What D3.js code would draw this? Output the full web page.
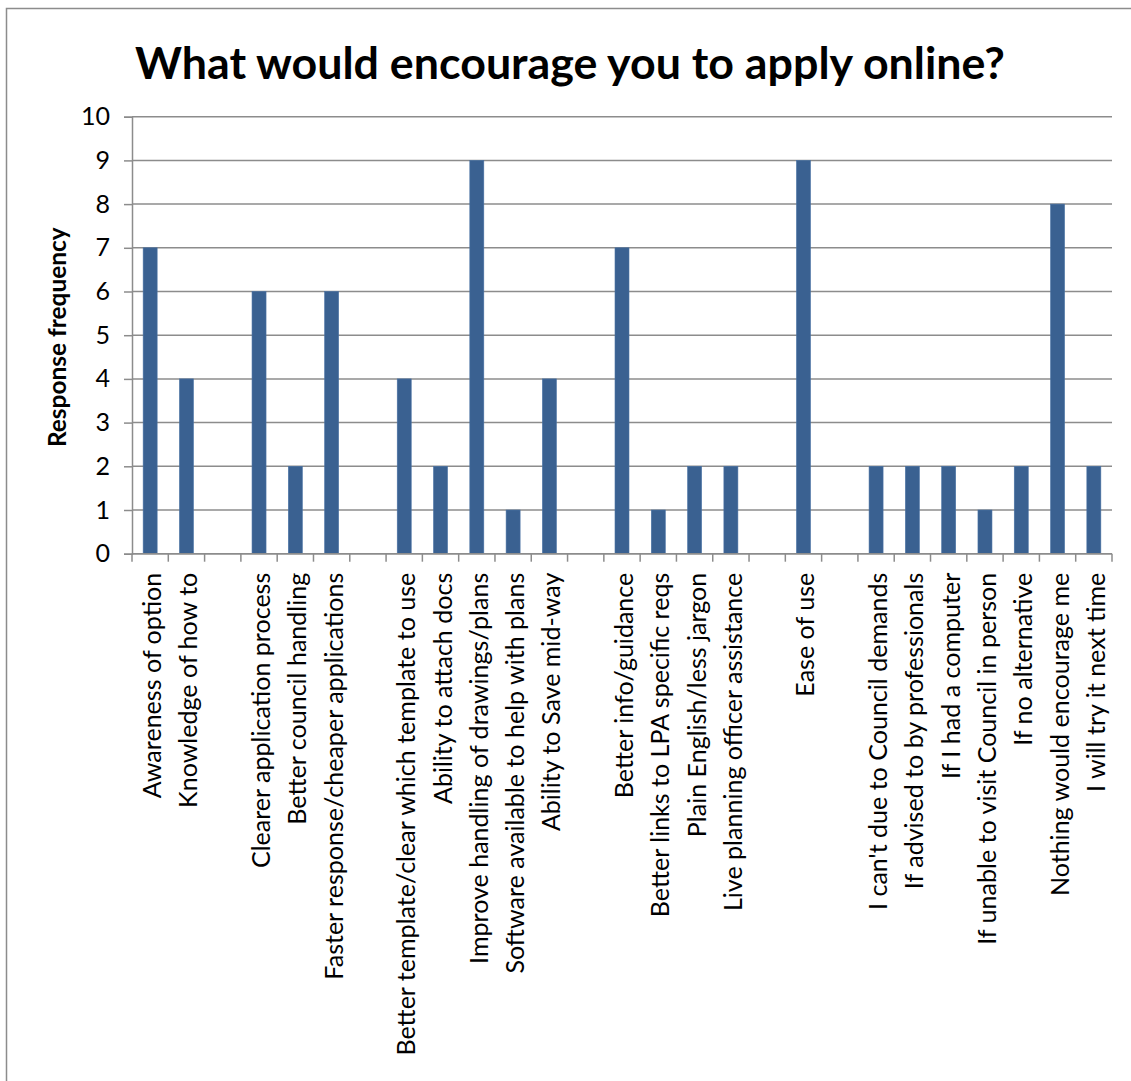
<!DOCTYPE html>
<html>
<head>
<meta charset="utf-8">
<script src="https://cdn.jsdelivr.net/npm/d3@7"></script>
<style>
  html, body { margin: 0; padding: 0; background: #fff; }
  svg { display: block; }
  text { font-family: Lato, "Open Sans", "Noto Sans", sans-serif; fill: #000; }
</style>
</head>
<body>
<svg id="chart" width="1131" height="1081"></svg>
<script>
// Survey answers; empty strings are spacer slots between answer groups
const categories = [
  "Awareness of option",
  "Knowledge of how to",
  "",
  "Clearer application process",
  "Better council handling",
  "Faster response/cheaper applications",
  "",
  "Better template/clear which template to use",
  "Ability to attach docs",
  "Improve handling of drawings/plans",
  "Software available to help with plans",
  "Ability to Save mid-way",
  "",
  "Better info/guidance",
  "Better links to LPA specific reqs",
  "Plain English/less jargon",
  "Live planning officer assistance",
  "",
  "Ease of use",
  "",
  "I can't due to Council demands",
  "If advised to by professionals",
  "If I had a computer",
  "If unable to visit Council in person",
  "If no alternative",
  "Nothing would encourage me",
  "I will try it next time"
];
const responses = [7, 4, null, 6, 2, 6, null, 4, 2, 9, 1, 4, null, 7, 1, 2, 2, null, 9, null, 2, 2, 2, 1, 2, 8, 2];
const yTicks = [0, 1, 2, 3, 4, 5, 6, 7, 8, 9, 10];
const chartTitle = "What would encourage you to apply online?";
const yTitle = "Response frequency";

const svg = d3.select("#chart");
const plot = { left: 132, right: 1112, top: 116.7, bottom: 553.7 };

// outer chart frame
svg.append("rect")
  .attr("x", 6.5).attr("y", 8.5)
  .attr("width", 1140).attr("height", 1100)
  .attr("fill", "#fff").attr("stroke", "#8c8c8c").attr("stroke-width", 1.5);

const slots = categories.map((c, i) => i);
const x = d3.scaleBand().domain(slots).range([plot.left, plot.right]).paddingInner(0).paddingOuter(0);
const y = d3.scaleLinear().domain([0, 10]).range([plot.bottom, plot.top]);

// horizontal gridlines
svg.append("g")
  .selectAll("line")
  .data(yTicks)
  .join("line")
  .attr("x1", plot.left).attr("x2", plot.right)
  .attr("y1", d => y(d)).attr("y2", d => y(d))
  .attr("stroke", "#8c8c8c").attr("stroke-width", 1.5);

// y axis
const yAxis = svg.append("g")
  .attr("transform", `translate(${plot.left},0)`)
  .call(d3.axisLeft(y).tickValues(yTicks).tickSize(8).tickPadding(14).tickFormat(d3.format("d")));
yAxis.attr("font-family", null).attr("font-size", null);
yAxis.select(".domain").attr("stroke", "#8c8c8c").attr("stroke-width", 1.5);
yAxis.selectAll(".tick line").attr("stroke", "#8c8c8c").attr("stroke-width", 1.5);
yAxis.selectAll(".tick text").attr("font-size", 20).attr("fill", "#000");

// bars
const barW = 14;
svg.append("g")
  .selectAll("rect")
  .data(responses.map((v, i) => ({ i, v })).filter(d => d.v !== null))
  .join("rect")
  .attr("x", d => x(d.i) + x.bandwidth() / 2 - barW / 2)
  .attr("width", barW)
  .attr("y", d => y(d.v))
  .attr("height", d => y(0) - y(d.v))
  .attr("fill", "#3a6191")
  .attr("stroke", "#4a72a4").attr("stroke-width", 0.6);

// x axis: tick marks at slot boundaries
const boundaries = d3.range(categories.length + 1).map(i => plot.left + i * x.bandwidth());
const xg = svg.append("g");
xg.append("line")
  .attr("x1", plot.left).attr("x2", plot.right)
  .attr("y1", plot.bottom).attr("y2", plot.bottom)
  .attr("stroke", "#8c8c8c").attr("stroke-width", 1.5);
xg.selectAll("line.tk")
  .data(boundaries)
  .join("line").attr("class", "tk")
  .attr("x1", d => d).attr("x2", d => d)
  .attr("y1", plot.bottom).attr("y2", plot.bottom + 8)
  .attr("stroke", "#8c8c8c").attr("stroke-width", 1.5);

// rotated category labels
const labels = xg.selectAll("text.cat")
  .data(categories.map((c, i) => ({ c, i })).filter(d => d.c !== ""))
  .join("text").attr("class", "cat")
  .attr("text-anchor", "end")
  .attr("dominant-baseline", "central")
  .attr("font-size", 20)
  .attr("transform", d => `translate(${x(d.i) + x.bandwidth() / 2 + 1},${plot.bottom + 19}) rotate(-90)`)
  .text(d => d.c);

// y axis title
const yt = svg.append("text")
  .attr("transform", `translate(66,${(plot.top + plot.bottom) / 2 + 2}) rotate(-90)`)
  .attr("text-anchor", "middle")
  .attr("font-size", 20)
  .attr("font-weight", "bold")
  .text(yTitle);

// chart title
const t = svg.append("text")
  .attr("x", 570).attr("y", 79)
  .attr("text-anchor", "middle")
  .attr("font-size", 40)
  .attr("font-weight", "bold")
  .text(chartTitle);

// scale text sizes so each spans its intended length once the font is ready
function fit(sel, base, target) {
  const w = sel.node().getComputedTextLength();
  return base * target / w;
}
function layoutText() {
  const size = fit(labels.filter(d => d.i === 7), 20, 483);
  labels.attr("font-size", size);
  yAxis.selectAll(".tick text").attr("font-size", size);
  yt.attr("font-size", fit(yt, 20, 220));
  t.attr("font-size", fit(t, 40, 870));
}
layoutText();
if (document.fonts && document.fonts.ready) {
  document.fonts.ready.then(() => {
    labels.attr("font-size", 20); yt.attr("font-size", 20); t.attr("font-size", 40);
    layoutText();
  });
}
</script>
</body>
</html>
